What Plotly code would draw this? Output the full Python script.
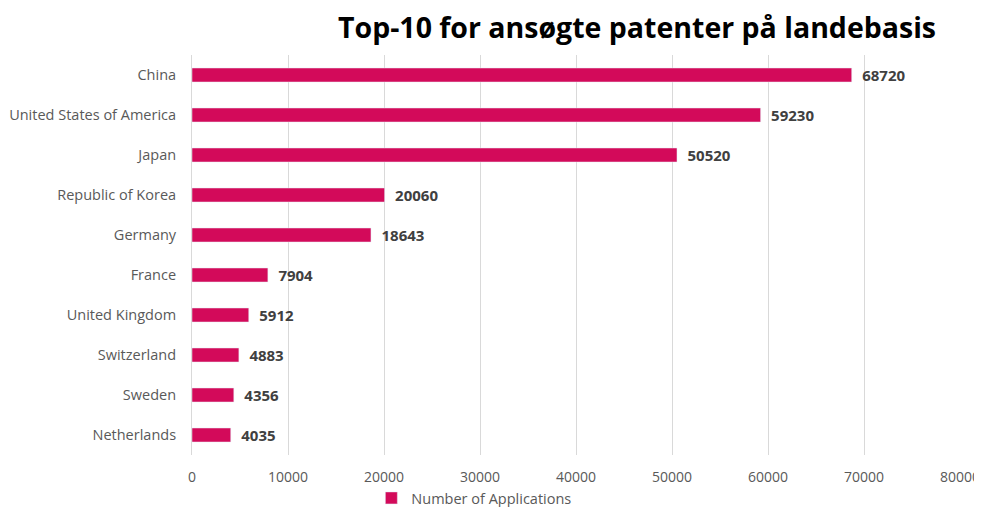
import plotly.graph_objects as go

countries = ["China", "United States of America", "Japan", "Republic of Korea", "Germany",
             "France", "United Kingdom", "Switzerland", "Sweden", "Netherlands"]
applications = [68720, 59230, 50520, 20060, 18643, 7904, 5912, 4883, 4356, 4035]
x_ticks = [0, 10000, 20000, 30000, 40000, 50000, 60000, 70000, 80000]
x_tick_labels = [str(v) for v in x_ticks]

fig = go.Figure(go.Bar(
    y=countries, x=applications, orientation="h",
    name="Number of Applications",
    marker=dict(color="#D30A5A"),
    width=0.35,
    text=["\u2002" + str(v) for v in applications],
    textposition="outside",
    constraintext="none",
    textfont=dict(family="Open Sans", size=15, color="#404040", weight="bold"),
    cliponaxis=False,
))

# page body has an 8px margin, so the figure is shrunk by 8px and margins shifted
fig.update_layout(
    width=974, height=499,
    margin=dict(l=184, r=22, t=47, b=52, autoexpand=False),
    paper_bgcolor="white", plot_bgcolor="white",
    title=dict(text="<b>Top-10 for ansøgte patenter på landebasis</b>",
               x=0.6458, xanchor="center", y=0.96, yanchor="middle",
               font=dict(family="Open Sans", size=28.5, color="black")),
    xaxis=dict(range=[0, 80000], tickvals=x_ticks, ticktext=x_tick_labels,
               showgrid=True, gridcolor="#D9D9D9", gridwidth=1, zeroline=False,
               tickfont=dict(family="Open Sans", size=14, color="#595959"),
               ticklabelstandoff=12, ticklabeloverflow="allow",
               automargin=False, fixedrange=True),
    yaxis=dict(autorange="reversed", showline=True, linecolor="#D9D9D9", linewidth=1,
               tickfont=dict(family="Open Sans", size=14.5, color="#595959"),
               ticklabelstandoff=12, automargin=False),
    showlegend=True,
    legend=dict(orientation="h", x=0.367, xanchor="center", y=-0.0675, yanchor="top",
                font=dict(family="Open Sans", size=14.5, color="#595959")),
    bargap=0.6,
)

fig.write_html("out.html")
